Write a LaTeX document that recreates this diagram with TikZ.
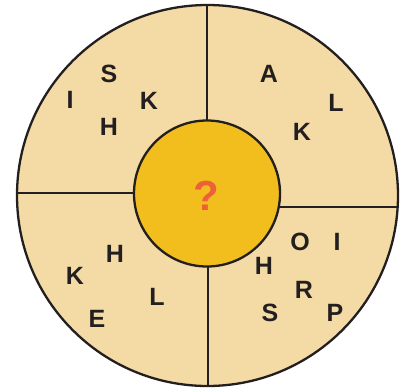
\documentclass[tikz,border=0pt]{standalone}
\usepackage{fontspec}
\setmainfont{Liberation Sans}
\definecolor{outerfill}{HTML}{F4DBA5}
\definecolor{innerfill}{HTML}{F2BE1E}
\definecolor{linecol}{HTML}{231F20}
\definecolor{qcol}{HTML}{EE6138}
\begin{document}
\begin{tikzpicture}[x=1pt,y=-1pt,
  ring/.style={line width=2.3pt, draw=linecol},
  letter/.style={font=\fontsize{25}{25}\selectfont\bfseries, text=linecol, inner sep=0pt, anchor=center},
  divider/.style={line width=2.3pt, draw=linecol}]
\useasboundingbox (0,0) rectangle (401,388);
% outer disc
\fill[outerfill] (207.5,195.5) circle (190.5);
\begin{scope}
\clip (207.5,195.5) circle (190.5);
\coordinate (ctop) at (207.3,0);
\coordinate (cbot) at (207.8,388);
\coordinate (cleft) at (0,193.3);
\coordinate (cright) at (401,207.3);
\coordinate (cmid) at (207.3,193.5);
\coordinate (cmidr) at (207.3,207.3);
\coordinate (cmidl) at (207.3,193.3);
\coordinate (cmidb) at (207.8,193.5);
\draw[divider] (ctop) -- (cmid);
\draw[divider] (cmidb) -- (cbot);
\draw[divider] (cleft) -- (cmidl);
\draw[divider] (cmidr) -- (cright);
\end{scope}
\draw[ring] (207.5,195.5) circle (190.5);
% inner disc
\node[circle, minimum size=146pt, inner sep=0pt, fill=innerfill, ring] (inner) at (207,193.5) {};
\node[font=\fontsize{42}{42}\selectfont\bfseries, text=qcol, inner sep=0pt] (q) at (206,196) {?};
% top-left
\node[letter] (tlS) at (109,74) {S};
\node[letter] (tlI) at (70,100) {I};
\node[letter] (tlK) at (149,101) {K};
\node[letter] (tlH) at (109,127) {H};
% top-right
\node[letter] (trA) at (269,74) {A};
\node[letter] (trL) at (336,103) {L};
\node[letter] (trK) at (302,132) {K};
% bottom-left
\node[letter] (blH) at (115,254) {H};
\node[letter] (blK) at (75,276) {K};
\node[letter] (blL) at (157,297) {L};
\node[letter] (blE) at (97,319) {E};
% bottom-right
\node[letter] (brO) at (300,242) {O};
\node[letter] (brI) at (337,242) {I};
\node[letter] (brH) at (264,266) {H};
\node[letter] (brR) at (304,290) {R};
\node[letter] (brS) at (270,313) {S};
\node[letter] (brP) at (335,313) {P};
\end{tikzpicture}
\end{document}
